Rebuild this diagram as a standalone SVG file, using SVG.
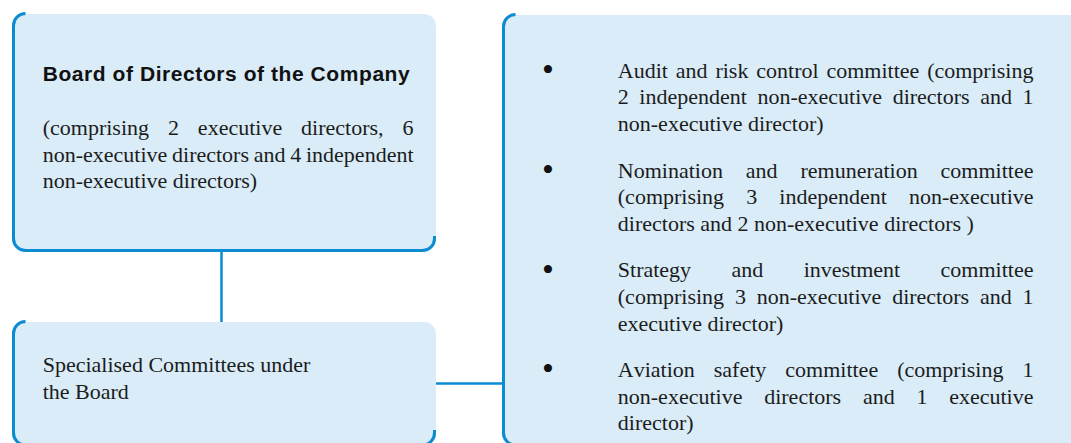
<svg xmlns="http://www.w3.org/2000/svg" width="1071" height="443" viewBox="0 0 1071 443">
  <style>
    .box { fill: #D9ECF8; }
    .edge { fill: none; stroke: #0A8CD2; stroke-width: 3; }
    .conn { stroke: #0A8CD2; stroke-width: 2.5; fill: none; }
    .title { font-family: "Liberation Sans", Arial, sans-serif; font-weight: bold; font-size: 21px; fill: #111; }
    .body { font-family: "Liberation Serif", "Times New Roman", serif; font-size: 22px; fill: #1c1c1c; font-kerning: none; }
    .bullet { font-family: "Liberation Serif", "Times New Roman", serif; font-size: 34px; fill: #111; }
  </style>
  <rect width="1071" height="443" fill="#ffffff"/>

  <g id="connectors">
    <line class="conn" x1="221.5" y1="251" x2="221.5" y2="323"/>
    <line class="conn" x1="435" y1="383.5" x2="503" y2="383.5"/>
  </g>

  <g id="board">
    <rect class="box" x="12" y="14" width="424" height="238" rx="12"/>
    <path class="edge" d="M 25.5 13.5 A 12 12 0 0 0 13.5 25.5 L 13.5 238.5 A 12 12 0 0 0 25.5 250.5 L 422.5 250.5 A 12 12 0 0 0 434.5 238.5 L 434.5 236"/>
    <text class="title" x="42.7" y="81" textLength="367" lengthAdjust="spacing">Board of Directors of the Company</text>
    <text class="body" x="42.7" y="135" word-spacing="13.43">(comprising 2 executive directors, 6</text>
    <text class="body" x="42.7" y="161.7" word-spacing="-0.76">non-executive directors and 4 independent</text>
    <text class="body" x="42.7" y="188.3">non-executive directors)</text>
  </g>

  <g id="specialised">
    <rect class="box" x="12" y="322" width="424" height="124" rx="12"/>
    <path class="edge" d="M 25.5 321.5 A 12 12 0 0 0 13.5 333.5 L 13.5 433 A 12 12 0 0 0 25.5 445 L 422.5 445 A 12 12 0 0 0 434.5 433 L 434.5 430"/>
    <text class="body" x="42.7" y="372.3">Specialised Committees under</text>
    <text class="body" x="42.7" y="399">the Board</text>
  </g>

  <g id="committees">
    <rect class="box" x="502" y="15" width="600" height="431" rx="12"/>
    <path class="edge" d="M 515.5 14.5 A 12 12 0 0 0 503.5 26.5 L 503.5 433 A 12 12 0 0 0 515.5 445 L 1080 445"/>

    <text class="bullet" x="542" y="81.2">•</text>
    <text class="body" x="617.8" y="77.7" word-spacing="2.36">Audit and risk control committee (comprising</text>
    <text class="body" x="617.8" y="104.3" word-spacing="5.07">2 independent non-executive directors and 1</text>
    <text class="body" x="617.8" y="131">non-executive director)</text>

    <text class="bullet" x="542" y="181">•</text>
    <text class="body" x="617.8" y="177.5" word-spacing="17.38">Nomination and remuneration committee</text>
    <text class="body" x="617.8" y="204.2" word-spacing="16.59">(comprising 3 independent non-executive</text>
    <text class="body" x="617.8" y="230.8">directors and 2 non-executive directors )</text>

    <text class="bullet" x="542" y="280.7">•</text>
    <text class="body" x="617.8" y="277.2" word-spacing="34.89">Strategy and investment committee</text>
    <text class="body" x="617.8" y="303.9" word-spacing="5.31">(comprising 3 non-executive directors and 1</text>
    <text class="body" x="617.8" y="330.5">executive director)</text>

    <text class="bullet" x="542" y="380.3">•</text>
    <text class="body" x="617.8" y="376.8" word-spacing="13.49">Aviation safety committee (comprising 1</text>
    <text class="body" x="617.8" y="403.5" word-spacing="16.27">non-executive directors and 1 executive</text>
    <text class="body" x="617.8" y="430.2">director)</text>
  </g>
</svg>
